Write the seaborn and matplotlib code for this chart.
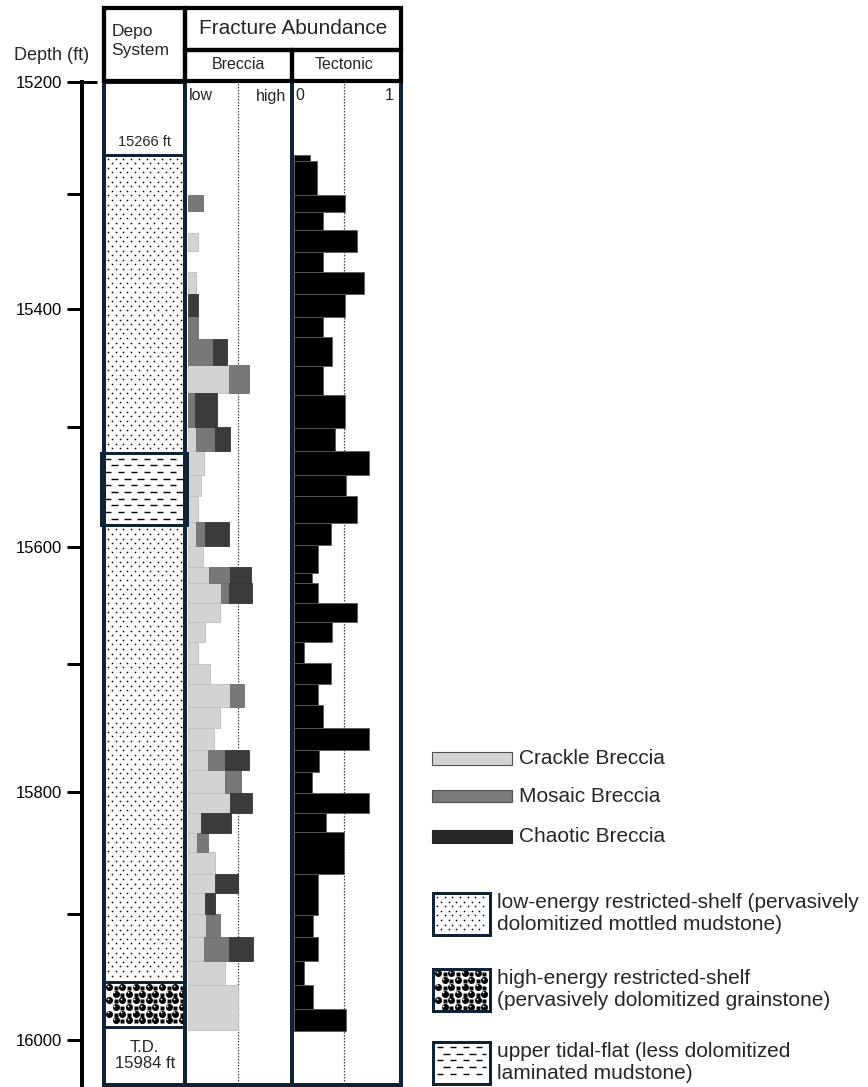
import numpy as np
import pandas as pd
import matplotlib
matplotlib.use("Agg")
import matplotlib.pyplot as plt
from matplotlib.patches import Rectangle
from matplotlib.collections import LineCollection
import seaborn as sns

# ---------------- data ----------------
depth_major = [15200, 15400, 15600, 15800, 16000]
depth_minor = [15300, 15500, 15700, 15900]

# the printed depth scale is hand drawn: tick depths and the log row each one sits on
scale_depth = [15100, 15200, 15300, 15400, 15500, 15600, 15700, 15800, 15900, 16000, 16100]
scale_row = [-29.6, 82.0, 193.6, 308.5, 426.5, 547.0, 664.4, 792.0, 914.0, 1040.0, 1166.0]

depo_top = [15200, 15265, 15522, 15582, 15954, 15990]
depo_base = [15265, 15522, 15582, 15954, 15990, 16036]
depo_kind = ["blank", "low", "tidal", "low", "high", "blank"]
depo_note = ["15266 ft", "", "", "", "", "T.D.\n15984 ft"]

brec_top = [15301, 15334, 15368, 15387, 15406, 15426, 15448, 15472, 15500, 15520,
            15540, 15558, 15579, 15599, 15617, 15631, 15648, 15664, 15681, 15700,
            15715, 15733, 15750, 15767, 15783, 15801, 15817, 15834, 15849, 15867,
            15883, 15900, 15918, 15937, 15956]
brec_base = [15315, 15350, 15387, 15406, 15426, 15448, 15472, 15500, 15520, 15540,
             15558, 15579, 15599, 15617, 15631, 15648, 15664, 15681, 15700, 15715,
             15733, 15750, 15767, 15783, 15801, 15817, 15834, 15849, 15867, 15883,
             15900, 15918, 15937, 15956, 15992]
crackle = [0, 10, 8, 0, 0, 0, 41, 0, 8, 16,
           13, 10, 8, 15, 21, 33, 32, 17, 10, 22,
           42, 32, 26, 20, 37, 42, 13, 9, 27, 27,
           17, 18, 16, 37, 50]
mosaic = [15, 0, 0, 0, 10, 25, 20, 7, 19, 0,
          0, 0, 9, 0, 21, 8, 0, 0, 0, 0,
          14, 0, 0, 17, 16, 0, 0, 11, 0, 0,
          0, 14, 25, 0, 0]
chaotic = [0, 0, 0, 10, 0, 14, 0, 22, 15, 0,
           0, 0, 24, 0, 21, 23, 0, 0, 0, 0,
           0, 0, 0, 24, 0, 22, 30, 0, 0, 23,
           10, 0, 24, 0, 0]

tect_edges = [15265, 15271, 15301, 15316, 15332, 15351, 15368, 15387, 15407, 15424,
              15449, 15473, 15501, 15520, 15540, 15558, 15580, 15598, 15622, 15631,
              15648, 15664, 15681, 15699, 15715, 15732, 15750, 15767, 15784, 15801,
              15817, 15833, 15867, 15901, 15918, 15937, 15956, 15975, 15993]
tect_frac = [0.16, 0.23, 0.51, 0.29, 0.63, 0.29, 0.70, 0.51, 0.29, 0.38,
             0.29, 0.51, 0.41, 0.75, 0.52, 0.63, 0.37, 0.24, 0.18, 0.24,
             0.63, 0.38, 0.10, 0.37, 0.24, 0.29, 0.75, 0.25, 0.18, 0.75,
             0.32, 0.50, 0.24, 0.19, 0.24, 0.10, 0.19, 0.52]

brec_names = ["Crackle Breccia", "Mosaic Breccia", "Chaotic Breccia"]
brec_colors = ["#d3d3d3", "#787878", "#3b3b3b"]
legend_colors = ["#d3d3d3", "#7a7a7a", "#262626"]
depo_legend_kind = ["low", "high", "tidal"]
depo_legend_text = ["low-energy restricted-shelf (pervasively\ndolomitized mottled mudstone)",
                    "high-energy restricted-shelf\n(pervasively dolomitized grainstone)",
                    "upper tidal-flat (less dolomitized\nlaminated mudstone)"]

# ---------------- style ----------------
sns.set_theme(style="white")
plt.rcParams["font.family"] = ["Liberation Sans", "DejaVu Sans"]

W, H = 868, 1087
TOP, BOT = 82.0, 1087.0
NAVY = "#0f2236"


def pt(p):
    return p * 0.72


def fwd(d):
    return np.interp(d, scale_depth, scale_row)


def inv(r):
    return np.interp(r, scale_row, scale_depth)


fig = plt.figure(figsize=(W / 100, H / 100), dpi=100)
fig.patch.set_facecolor("white")


def track(x0, x1):
    return fig.add_axes([x0 / W, 1 - BOT / H, (x1 - x0) / W, (BOT - TOP) / H])


def depth_scale(ax):
    ax.set_yscale("function", functions=(fwd, inv))
    ax.set_ylim(float(inv(BOT)), depth_major[0])


# ---------------- breccia track ----------------
ax_b = track(185.3, 292.0)
brec_mid = (np.array(brec_top) + np.array(brec_base)) / 2
brec_df = pd.DataFrame({
    "depth": np.tile(brec_mid, 3),
    "amount": np.concatenate([crackle, mosaic, chaotic]).astype(float),
    "type": np.repeat(brec_names, len(brec_mid)),
})
brec_bins = sorted(set(brec_top) | set(brec_base))
sns.histplot(data=brec_df, y="depth", weights="amount", hue="type",
             hue_order=brec_names[::-1], palette=dict(zip(brec_names, brec_colors)),
             multiple="stack", bins=brec_bins, alpha=1, linewidth=0.6,
             legend=False, ax=ax_b)
for p in ax_b.patches:
    if p.get_width() <= 1e-9:
        p.set_visible(False)
    else:
        fc = np.array(p.get_facecolor()[:3])
        p.set_edgecolor(tuple(fc * 0.9))
ax_b.set_xlim(-2.2, 104.5)
depth_scale(ax_b)
ax_b.axvline(50, color="#444444", lw=0.9, ls=(0, (1.2, 1.2)), zorder=0.5)
ax_b.set_axis_off()

# ---------------- tectonic track ----------------
ax_t = track(292.0, 400.5)
tect_mid = (np.array(tect_edges[:-1]) + np.array(tect_edges[1:])) / 2
sns.histplot(y=tect_mid, weights=tect_frac, bins=list(tect_edges), color="black",
             alpha=1, edgecolor="#5a5a5a", linewidth=0.6, ax=ax_t)
ax_t.set_xlim(-0.02, 1.065)
depth_scale(ax_t)
ax_t.axvline(0.5, color="#444444", lw=0.9, ls=(0, (1.2, 1.2)), zorder=0.5)
ax_t.set_axis_off()

# ---------------- depth axis ----------------
ax_d = track(82.0, 97.0)
ax_d.patch.set_alpha(0)
ax_d.set_xlim(0, 1)
depth_scale(ax_d)
for s in ["top", "right", "bottom"]:
    ax_d.spines[s].set_visible(False)
ax_d.spines["left"].set_linewidth(pt(4))
ax_d.spines["left"].set_color("black")
ax_d.set_xticks([])
ax_d.set_yticks(depth_major)
ax_d.set_yticklabels([str(d) for d in depth_major], fontsize=12, color="black")
ax_d.set_yticks(depth_minor, minor=True)
ax_d.tick_params(axis="y", which="both", left=True, direction="out", length=pt(15),
                 width=pt(3), color="black", pad=pt(5))
ax_d.tick_params(axis="y", which="minor", labelleft=False)
ax_d.plot([0, 1], [depth_major[0]] * 2, color="black", lw=pt(3),
          solid_capstyle="butt", clip_on=False)

# ---------------- depositional system column ----------------
ax_p = track(104.0, 185.3)
ax_p.set_xlim(0, 1)
depth_scale(ax_p)
ax_p.set_axis_off()

ov = fig.add_axes([0, 0, 1, 1], zorder=10)
ov.set_xlim(0, W)
ov.set_ylim(H, 0)
ov.set_axis_off()


def dots(x0, x1, y0, y1):
    xs, ys = [], []
    for r, y in enumerate(np.arange(y0 + 2.5, y1 - 1.0, 4.6)):
        start = x0 + (2.5 if r % 2 == 0 else 6.35)
        for x in np.arange(start, x1 - 1.0, 7.7):
            xs.append(x)
            ys.append(y)
    ov.plot(xs, ys, ls="none", marker="s", ms=1.1, mfc="black", mec="none", zorder=2)


def grain(x0, x1, y0, y1):
    ov.add_patch(Rectangle((x0, y0), x1 - x0, y1 - y0, fc="white", ec="none", zorder=1.9))
    bx, by, sx, sy = [], [], [], []
    for r, y in enumerate(np.arange(y0 + 3.4, y1 - 1.0, 6.7)):
        start = x0 + (3.4 if r % 2 == 0 else 10.05)
        for x in np.arange(start, x1 - 1.5, 13.3):
            bx.append(x)
            by.append(y)
            if x + 6.65 < x1 - 1.5:
                sx.append(x + 6.65)
                sy.append(y + 1.0)
    bx, by = np.array(bx), np.array(by)
    ov.plot(sx, sy, ls="none", marker="s", ms=pt(3.2), mfc="black", mec="none", zorder=2)
    ov.plot(bx, by, ls="none", marker="o", ms=pt(7.0), mfc="black", mec="none", zorder=2)
    ov.plot(bx - 1.3, by - 1.4, ls="none", marker="o", ms=pt(1.8), mfc="white",
            mec="none", zorder=2.1)


def dashes(x0, x1, y0, y1):
    segs = []
    period, dash = 13.0, 6.5
    for r, y in enumerate(np.arange(y0 + 4.0, y1 - 2.0, 6.7)):
        x = x0 + 2 + (0 if r % 2 == 0 else period / 2) - period
        while x < x1 - 2:
            a, b = max(x, x0 + 2), min(x + dash, x1 - 2)
            if b > a + 0.8:
                segs.append([(a, y), (b, y)])
            x += period
    ov.add_collection(LineCollection(segs, colors="black", linewidths=pt(1.4),
                                     capstyle="butt", zorder=2))


pattern = {"low": dots, "high": grain, "tidal": dashes}

for i, (top, base, kind, note) in enumerate(zip(depo_top, depo_base, depo_kind, depo_note)):
    x0, w = (-0.035, 1.055) if kind == "tidal" else (0.0, 1.0)
    ax_p.add_patch(Rectangle((x0, top), w, base - top, fc="white", ec=NAVY,
                             lw=pt(3), clip_on=False, zorder=2))
    pts = ax_p.transData.transform([(x0, top), (x0 + w, base)])
    px0, px1 = pts[0, 0], pts[1, 0]
    py0, py1 = H - pts[0, 1], H - pts[1, 1]
    if kind in pattern:
        pattern[kind](px0 + 1.5, px1 - 1.5, py0 + 1.5, py1 - 1.5)
    if note:
        if i == 0:
            ov.text((px0 + px1) / 2, py1 - 13, note, ha="center", va="center", fontsize=10.5)
        else:
            ov.text((px0 + px1) / 2, (py0 + py1) / 2 - 1, note, ha="center", va="center",
                    fontsize=12, linespacing=1.1)

# ---------------- frames ----------------
for x in [104.0, 185.3, 292.0, 400.5]:
    ov.plot([x, x], [81, 1085.3], color=NAVY, lw=pt(4), solid_capstyle="projecting", zorder=3)
ov.plot([104.0, 400.5], [1085.3, 1085.3], color=NAVY, lw=pt(4),
        solid_capstyle="projecting", zorder=3)
for (x0, y0, x1, y1) in [(104.0, 8.3, 185.3, 81.0), (185.3, 8.3, 400.5, 50.0),
                         (185.3, 50.0, 291.5, 81.0), (291.5, 50.0, 400.5, 81.0)]:
    ov.add_patch(Rectangle((x0, y0), x1 - x0, y1 - y0, fill=False, ec="black",
                           lw=pt(4.2), joinstyle="miter", zorder=3.5))

# ---------------- header texts ----------------
ov.text(52, 55, "Depth (ft)", ha="center", va="center", fontsize=13, zorder=4)
ov.text(111.5, 31.5, "Depo", ha="left", va="center", fontsize=12.5, zorder=4)
ov.text(111.5, 50.0, "System", ha="left", va="center", fontsize=12.5, zorder=4)
ov.text(293, 28.5, "Fracture Abundance", ha="center", va="center", fontsize=15, zorder=4)
ov.text(238, 64.5, "Breccia", ha="center", va="center", fontsize=11.5, zorder=4)
ov.text(344, 64.5, "Tectonic", ha="center", va="center", fontsize=11.5, zorder=4)
ov.text(189, 96, "low", ha="left", va="center", fontsize=11.5, zorder=4)
ov.text(286, 96, "high", ha="right", va="center", fontsize=11.5, zorder=4)
ov.text(295.5, 96, "0", ha="left", va="center", fontsize=11.5, zorder=4)
ov.text(394, 96, "1", ha="right", va="center", fontsize=11.5, zorder=4)

# ---------------- legend ----------------
leg_y = [752.0, 790.0, 829.5]
leg_h = [12.5, 12.0, 13.0]
for name, fc, y, h in zip(brec_names, legend_colors, leg_y, leg_h):
    ov.add_patch(Rectangle((432, y), 80, h, fc=fc, ec="#505050" if fc != "#262626" else fc,
                           lw=0.8, zorder=3))
    ov.text(519, y + h / 2, name, ha="left", va="center", fontsize=15, zorder=4)

box_y = [893.0, 968.5, 1041.5]
for kind, text, y in zip(depo_legend_kind, depo_legend_text, box_y):
    ov.add_patch(Rectangle((432.5, y), 57, 42, fc="white", ec="none", zorder=1.5))
    pattern[kind](434.5, 487.5, y + 1.5, y + 41)
    ov.add_patch(Rectangle((432.5, y), 57, 42, fill=False, ec=NAVY, lw=pt(3), zorder=3))
    ov.text(497, y + 21, text, ha="left", va="center", fontsize=15, linespacing=1.2, zorder=4)

fig.savefig("out.png", dpi=100)
